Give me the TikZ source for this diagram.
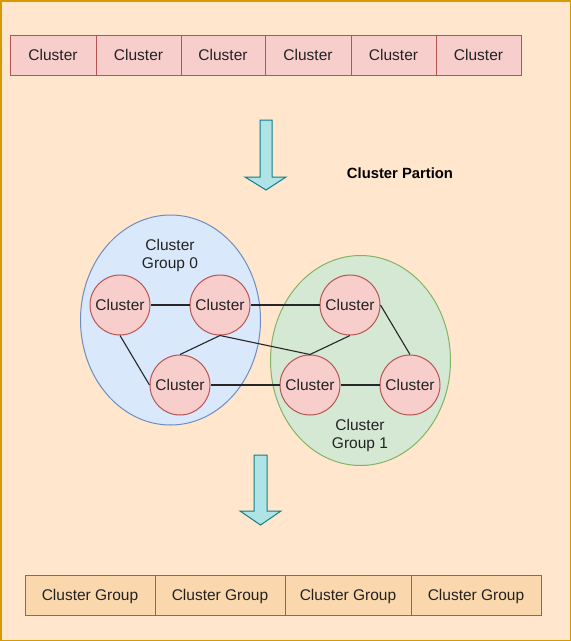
\documentclass[tikz,border=0pt]{standalone}
\usepackage{fontspec}
\setmainfont{Liberation Sans}
\usetikzlibrary{shapes.geometric}

\definecolor{bgfill}{HTML}{FFE6CC}
\definecolor{bgline}{HTML}{D79B00}
\definecolor{redfill}{HTML}{F8CECC}
\definecolor{redline}{HTML}{B85450}
\definecolor{orgfill}{HTML}{FAD7AC}
\definecolor{orgline}{HTML}{B46504}
\definecolor{bluefill}{HTML}{DAE8FC}
\definecolor{blueline}{HTML}{6C8EBF}
\definecolor{grnfill}{HTML}{D5E8D4}
\definecolor{grnline}{HTML}{82B366}
\definecolor{arrfill}{HTML}{B0E3E6}
\definecolor{arrline}{HTML}{0E8088}
\definecolor{txt}{HTML}{222222}

\tikzset{
  cbox/.style={draw=redline, fill=redfill, minimum height=40pt, inner sep=0pt, text=txt, text height=11pt, text depth=1pt},
  gbox/.style={draw=orgline, fill=orgfill, minimum height=40pt, inner sep=0pt, text=txt, text height=11pt, text depth=1pt},
  cnode/.style={circle, draw=redline, fill=redfill, minimum size=60pt, inner sep=0pt, text=txt},
  group/.style={ellipse, minimum width=180pt, minimum height=210pt, inner sep=0pt},
  link/.style={draw=black!85, line width=1.1pt}
}

\begin{document}
\begin{tikzpicture}[x=1pt, y=-1pt, line width=1pt, font=\fontsize{15.5}{18}\selectfont]
  \useasboundingbox (0,0) rectangle (571,641);

  % Background
  \filldraw[fill=bgfill, draw=bgline, line width=1.5pt] (0.75,0.75) rectangle (570.25,640.25);

  % Cluster row
  \node[cbox, minimum width=86pt] (t1) at (53,55) {Cluster};
  \node[cbox, minimum width=85pt] (t2) at (138.5,55) {Cluster};
  \node[cbox, minimum width=84pt] (t3) at (223,55) {Cluster};
  \node[cbox, minimum width=86pt] (t4) at (308,55) {Cluster};
  \node[cbox, minimum width=85pt] (t5) at (393.5,55) {Cluster};
  \node[cbox, minimum width=85pt] (t6) at (478.5,55) {Cluster};

  % Down arrow 1
  \filldraw[fill=arrfill, draw=arrline] (260,120) -- (272,120) -- (272,177) -- (286,177)
    -- (266,190) -- (245,177) -- (260,177) -- cycle;
  \node[font=\fontsize{14.8}{18}\selectfont\bfseries, text=black] (title) at (400,173) {Cluster Partion};

  % Cluster groups
  \node[group, draw=blueline, fill=bluefill] (g0) at (170.5,320) {};
  \node[group, draw=grnline, fill=grnfill] (g1) at (360.5,360.5) {};
  \node[align=center, text=txt] (g0lab) at (170,255.5) {Cluster\\Group 0};
  \node[align=center, text=txt] (g1lab) at (360,435.5) {Cluster\\Group 1};

  % Clusters
  \node[cnode] (c1) at (120,305) {Cluster};
  \node[cnode] (c2) at (220,305) {Cluster};
  \node[cnode] (c3) at (350,305) {Cluster};
  \node[cnode] (c4) at (180,385) {Cluster};
  \node[cnode] (c5) at (310,385) {Cluster};
  \node[cnode] (c6) at (410,385) {Cluster};

  % Links
  \draw[link] (c1) -- (c2);
  \draw[link] (c2) -- (c3);
  \draw[link] (c4) -- (c5);
  \draw[link] (c5) -- (c6);
  \draw[link] (c1.south) -- (c4.west);
  \draw[link] (c2.south) -- (c4.north);
  \draw[link] (c2.south) -- (c5.north);
  \draw[link] (c3.south) -- (c5.north);
  \draw[link] (c3.east) -- (c6.north);

  % Down arrow 2
  \filldraw[fill=arrfill, draw=arrline] (254,455) -- (267,455) -- (267,511) -- (281,511)
    -- (260.5,525) -- (240,511) -- (254,511) -- cycle;

  % Cluster group row
  \node[gbox, minimum width=130pt] (b1) at (90,595.5) {Cluster Group};
  \node[gbox, minimum width=130pt] (b2) at (220,595.5) {Cluster Group};
  \node[gbox, minimum width=126pt] (b3) at (348,595.5) {Cluster Group};
  \node[gbox, minimum width=130pt] (b4) at (476,595.5) {Cluster Group};
\end{tikzpicture}
\end{document}
